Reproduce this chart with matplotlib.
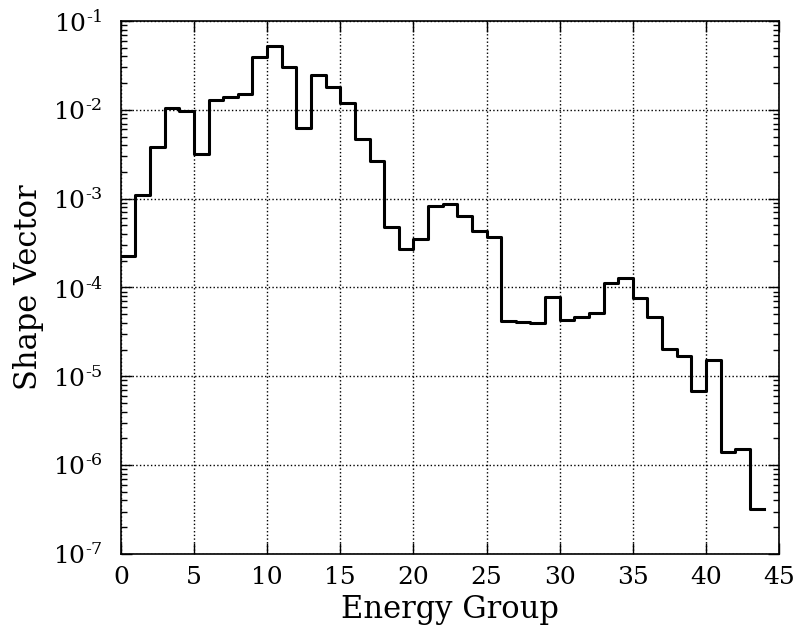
import numpy as np
import matplotlib
matplotlib.use("Agg")
import matplotlib.pyplot as plt
from matplotlib.ticker import FixedLocator, NullLocator, FuncFormatter

groups = list(range(44))
shape_vector = [
    2.28e-4, 1.10e-3, 3.83e-3, 1.05e-2, 9.7e-3, 3.21e-3, 1.28e-2, 1.41e-2,
    1.49e-2, 3.89e-2, 5.22e-2, 3.03e-2, 6.2e-3, 2.48e-2, 1.80e-2, 1.19e-2,
    4.67e-3, 2.66e-3, 4.8e-4, 2.73e-4, 3.54e-4, 8.3e-4, 8.65e-4, 6.45e-4,
    4.33e-4, 3.7e-4, 4.18e-5, 4.07e-5, 3.97e-5, 7.85e-5, 4.29e-5, 4.67e-5,
    5.1e-5, 1.11e-4, 1.28e-4, 7.7e-5, 4.62e-5, 2.02e-5, 1.70e-5, 6.75e-6,
    1.53e-5, 1.39e-6, 1.53e-6, 3.23e-7,
]
x_ticks = [0, 5, 10, 15, 20, 25, 30, 35, 40, 45]
y_exponents = [-7, -6, -5, -4, -3, -2, -1]

plt.rcParams['font.family'] = ['DejaVu Serif']
plt.rcParams['mathtext.fontset'] = 'dejavuserif'

fig = plt.figure(figsize=(7.95, 6.35), dpi=100)
ax = fig.add_axes([0.152, 0.1276, 0.828, 0.8394])

edges = np.append(groups, groups[-1] + 1)
vals = np.append(shape_vector, shape_vector[-1])
ax.step(edges, vals, where='post', color='black', linewidth=2.2)

ax.set_yscale('log')
ax.set_xlim(0, 45)
ax.set_ylim(1e-7, 1e-1)
ax.set_xticks(x_ticks)
ax.xaxis.set_minor_locator(NullLocator())
major_y = [10.0 ** e for e in y_exponents]
minor_y = [m * 10.0 ** e for e in y_exponents[:-1] for m in range(2, 10)]
ax.yaxis.set_major_locator(FixedLocator(major_y))
ax.yaxis.set_minor_locator(FixedLocator(minor_y))


def fmt(v, pos):
    e = int(round(np.log10(v)))
    if e < 0:
        return r'$10^{\text{-%d}}$' % (-e)
    return r'$10^{%d}$' % e


ax.yaxis.set_major_formatter(FuncFormatter(fmt))
ax.yaxis.set_minor_formatter(FuncFormatter(lambda v, p: ''))

ax.grid(True, which='major', color='black', linestyle=':', linewidth=1.0)
ax.tick_params(which='both', direction='in', top=True, right=True, labelsize=18)
ax.tick_params(which='major', length=8, width=1)
ax.tick_params(which='minor', length=4, width=1)
ax.tick_params(axis='x', pad=9)
ax.tick_params(axis='y', pad=13)
for s in ax.spines.values():
    s.set_linewidth(1.2)

ax.set_xlabel('Energy Group', fontsize=22, labelpad=3)
ax.set_ylabel('Shape Vector', fontsize=22, labelpad=6)

fig.savefig('out.png', dpi=100)
